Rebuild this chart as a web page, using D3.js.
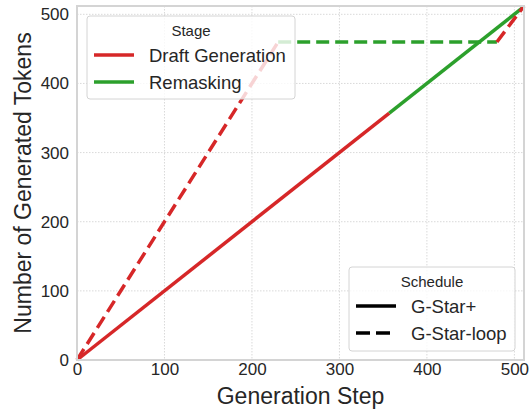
<!DOCTYPE html>
<html>
<head>
<meta charset="utf-8">
<script src="https://cdn.jsdelivr.net/npm/d3@7"></script>
<style>
  body { margin: 0; background: #fff; }
  svg text { font-family: Arial, "Liberation Sans", sans-serif; fill: #262626; }
</style>
</head>
<body>
<svg id="chart" width="530" height="412"></svg>
<script>
// data: [step, tokens] breakpoints per segment
let gstarPlusDraft = [[0, 0], [357, 357]];
let gstarPlusRemask = [[357, 357], [511, 511]];
let loopDraft1 = [[0, 0], [230, 460]];
let loopRemask = [[230, 460], [480, 460]];
let loopDraft2 = [[480, 460], [511, 512]];

let xTicks = [0, 100, 200, 300, 400, 500];
let yTicks = [0, 100, 200, 300, 400, 500];

let stageNames = ["Draft Generation", "Remasking"];
let scheduleNames = ["G-Star+", "G-Star-loop"];

const red = "#d62728";
const green = "#2ca02c";

let svg = d3.select("#chart");
let plotLeft = 77, plotRight = 524, plotTop = 6, plotBottom = 360;

let x = d3.scaleLinear().domain([0, 511]).range([plotLeft, plotRight]);
let y = d3.scaleLinear().domain([0, 512]).range([plotBottom, plotTop]);

// grid
let grid = svg.append("g");
grid.append("g").selectAll("line").data(xTicks).join("line")
  .attr("x1", (d) => x(d)).attr("x2", (d) => x(d))
  .attr("y1", plotTop).attr("y2", plotBottom)
  .attr("stroke", "#d9d9d9").attr("stroke-width", 1).attr("stroke-dasharray", "1.5,1.5");
grid.append("g").selectAll("line").data(yTicks).join("line")
  .attr("y1", (d) => y(d)).attr("y2", (d) => y(d))
  .attr("x1", plotLeft).attr("x2", plotRight)
  .attr("stroke", "#d9d9d9").attr("stroke-width", 1).attr("stroke-dasharray", "1.5,1.5");

let line = d3.line().x((d) => x(d[0])).y((d) => y(d[1]));

let series = [
  { pts: gstarPlusDraft, color: red, dash: null },
  { pts: gstarPlusRemask, color: green, dash: null },
  { pts: loopDraft1, color: red, dash: "13,6" },
  { pts: loopRemask, color: green, dash: "13,6" },
  { pts: loopDraft2, color: red, dash: "13,6" },
];

svg.append("g").selectAll("path").data(series).join("path")
  .attr("d", (d) => line(d.pts))
  .attr("fill", "none")
  .attr("stroke", (d) => d.color)
  .attr("stroke-width", 3.5)
  .attr("stroke-dasharray", (d) => d.dash);

// frame
svg.append("rect")
  .attr("x", plotLeft).attr("y", plotTop)
  .attr("width", plotRight - plotLeft).attr("height", plotBottom - plotTop)
  .attr("fill", "none").attr("stroke", "#d4d4d4").attr("stroke-width", 2);

// axes
let xAxis = svg.append("g").attr("transform", `translate(0,${plotBottom})`)
  .call(d3.axisBottom(x).tickValues(xTicks).tickSize(0).tickPadding(3));
let yAxis = svg.append("g").attr("transform", `translate(${plotLeft},0)`)
  .call(d3.axisLeft(y).tickValues(yTicks).tickSize(0).tickPadding(8));
[xAxis, yAxis].forEach((a) => {
  a.select(".domain").remove();
  a.selectAll("text").attr("font-size", 17).attr("fill", "#262626")
    .style("font-family", "Arial, 'Liberation Sans', sans-serif");
});

svg.append("text")
  .attr("x", (plotLeft + plotRight) / 2).attr("y", 404)
  .attr("text-anchor", "middle").attr("font-size", 23)
  .text("Generation Step");

svg.append("text")
  .attr("transform", `translate(31,${(plotTop + plotBottom) / 2}) rotate(-90)`)
  .attr("text-anchor", "middle").attr("font-size", 23)
  .text("Number of Generated Tokens");

// legends
let drawLegend = (bx, by, bw, bh, title, names, styles) => {
  let g = svg.append("g").attr("transform", `translate(${bx},${by})`);
  g.append("rect").attr("width", bw).attr("height", bh).attr("rx", 3)
    .attr("fill", "white").attr("fill-opacity", 0.8)
    .attr("stroke", "#d4d4d4").attr("stroke-width", 1);
  g.append("text").attr("x", bw / 2).attr("y", 20).attr("text-anchor", "middle")
    .attr("font-size", 15).text(title);
  names.forEach((n, i) => {
    let cy = 39 + i * 27;
    g.append("line").attr("x1", 7).attr("x2", 47).attr("y1", cy).attr("y2", cy)
      .attr("stroke", styles[i].color).attr("stroke-width", 3.5)
      .attr("stroke-dasharray", styles[i].dash);
    g.append("text").attr("x", 62).attr("y", cy + 6.5).attr("font-size", 18.5).text(n);
  });
};

drawLegend(87, 16, 208, 83, "Stage", stageNames,
  [{ color: red, dash: null }, { color: green, dash: null }]);
drawLegend(349, 267, 166, 84, "Schedule", scheduleNames,
  [{ color: "#000", dash: null }, { color: "#000", dash: "14,6" }]);
</script>
</body>
</html>
